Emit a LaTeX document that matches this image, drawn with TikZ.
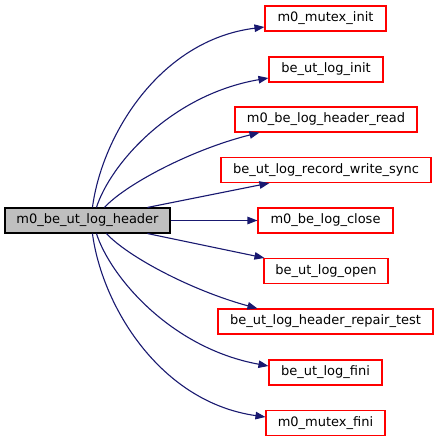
\documentclass[tikz,border=0pt]{standalone}
\usepackage{fontspec}
\setmainfont{DejaVu Sans}
\usetikzlibrary{arrows.meta}
\definecolor{edgeblue}{HTML}{191970}
\definecolor{nodegrey}{HTML}{BFBFBF}
\tikzset{
  fn/.style={draw=red, line width=1.1pt, minimum height=25pt, inner xsep=0pt, inner ysep=0pt, font=\fontsize{13pt}{15pt}\selectfont, text=black},
  mainfn/.style={fn, draw=black, fill=nodegrey},
  edge/.style={draw=edgeblue, line width=1.1pt, -{Triangle[length=10pt,width=7.5pt]}}
}
\begin{document}
\begin{tikzpicture}[x=1pt,y=-1pt]
\useasboundingbox (0,0) rectangle (439,443);
\node[mainfn, minimum width=165pt] (main) at (87.5,220.5) {m0\_be\_ut\_log\_header};
\node[fn, minimum width=121pt] (n1) at (325.5,18.5) {m0\_mutex\_init};
\node[fn, minimum width=114pt] (n2) at (326,69.5) {be\_ut\_log\_init};
\node[fn, minimum width=182pt] (n3) at (326,119.5) {m0\_be\_log\_header\_read};
\node[fn, minimum width=210pt] (n4) at (326,170) {be\_ut\_log\_record\_write\_sync};
\node[fn, minimum width=135pt] (n5) at (325.5,220.5) {m0\_be\_log\_close};
\node[fn, minimum width=124pt] (n6) at (326,271) {be\_ut\_log\_open};
\node[fn, minimum width=215pt] (n7) at (325.5,321.5) {be\_ut\_log\_header\_repair\_test};
\node[fn, minimum width=113pt] (n8) at (325.5,372.5) {be\_ut\_log\_fini};
\node[fn, minimum width=119pt] (n9) at (325.5,423) {m0\_mutex\_fini};

\draw[edge] ([xshift=88pt]main.north west) .. controls (102,135) and (160,40) .. ([yshift=-8.5pt]n1.west);
\draw[edge] ([xshift=92pt]main.north west) .. controls (110,165) and (170,95) .. ([yshift=-8.5pt]n2.west);
\draw[edge] ([xshift=100pt]main.north west) .. controls (125,185) and (190,150) .. ([xshift=25pt]n3.south west);
\draw[edge] ([xshift=143pt]main.north west) -- ([xshift=49pt]n4.south west);
\draw[edge] (main.east) -- (n5.west);
\draw[edge] ([xshift=143pt]main.south west) -- ([xshift=1pt]n6.north west);
\draw[edge] ([xshift=102pt]main.south west) .. controls (127,256) and (190,290) .. ([xshift=40pt]n7.north west);
\draw[edge] ([xshift=92pt]main.south west) .. controls (110,276) and (170,348) .. ([yshift=6.5pt]n8.west);
\draw[edge] ([xshift=88pt]main.south west) .. controls (102,306) and (160,402) .. ([yshift=6pt]n9.west);
\end{tikzpicture}
\end{document}
